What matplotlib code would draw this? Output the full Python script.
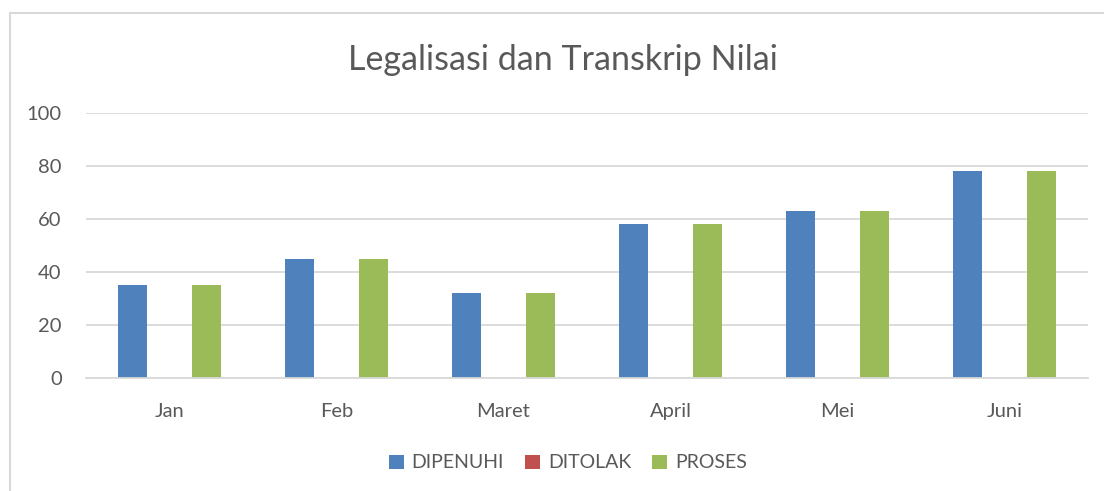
import matplotlib
matplotlib.use("Agg")
import matplotlib.pyplot as plt
from matplotlib.patches import Rectangle, Patch
import numpy as np

categories = ["Jan", "Feb", "Maret", "April", "Mei", "Juni"]
series_names = ["DIPENUHI", "DITOLAK", "PROSES"]
dipenuhi = [35, 45, 32, 58, 63, 78]
ditolak = [0, 0, 0, 0, 0, 0]
proses = [35, 45, 32, 58, 63, 78]
colors = ["#4F81BD", "#C0504D", "#9BBB59"]
yticks = [0, 20, 40, 60, 80, 100]

plt.rcParams['font.family'] = ['Lato', 'DejaVu Sans']
txt = "#595959"
grid = "#D9D9D9"

fig = plt.figure(figsize=(11.04, 4.91), dpi=100)
fig.patch.set_facecolor("white")
ax = fig.add_axes([86/1104, 1-378/491, (1088-86)/1104, (378-113)/491])

x = np.arange(len(categories))
w = 29/167
step = 37/167
for i, (vals, c, n) in enumerate(zip([dipenuhi, ditolak, proses], colors, series_names)):
    ax.bar(x + (i-1)*step, vals, width=w, color=c, label=n, zorder=3)

ax.set_xlim(-0.5, len(categories)-0.5)
ax.set_ylim(0, 100)
ax.set_yticks(yticks)
ax.set_yticklabels([str(v) for v in yticks], color=txt, fontsize=14.5)
ax.set_xticks(x)
ax.set_xticklabels(categories, color=txt, fontsize=14.5)
ax.tick_params(axis='both', length=0)
ax.tick_params(axis='y', pad=17.5)
ax.tick_params(axis='x', pad=18)
ax.yaxis.grid(True, color=grid, linewidth=1.3, zorder=0)
for s in ["top", "right", "left"]:
    ax.spines[s].set_visible(False)
ax.spines["bottom"].set_color(grid)
ax.spines["bottom"].set_linewidth(1.3)
ax.spines["bottom"].set_zorder(4)

fig.text(563/1104, 1-60/491, "Legalisasi dan Transkrip Nilai", ha="center", va="center",
         fontsize=24.5, color=txt)

handles = [Patch(facecolor=c, label=n) for c, n in zip(colors, series_names)]
fig.legend(handles=handles, loc="center", bbox_to_anchor=(568/1104, 1-463/491), ncol=3,
           frameon=False, fontsize=14, handlelength=0.75, handleheight=0.75,
           handletextpad=0.4, columnspacing=1.1, labelcolor=txt)

fig.patches.append(Rectangle((10/1104, -0.1), 1.2, 1.1-13/491, transform=fig.transFigure,
                             fill=False, edgecolor=grid, linewidth=1.5))

fig.savefig("out.png", dpi=100, facecolor="white")
